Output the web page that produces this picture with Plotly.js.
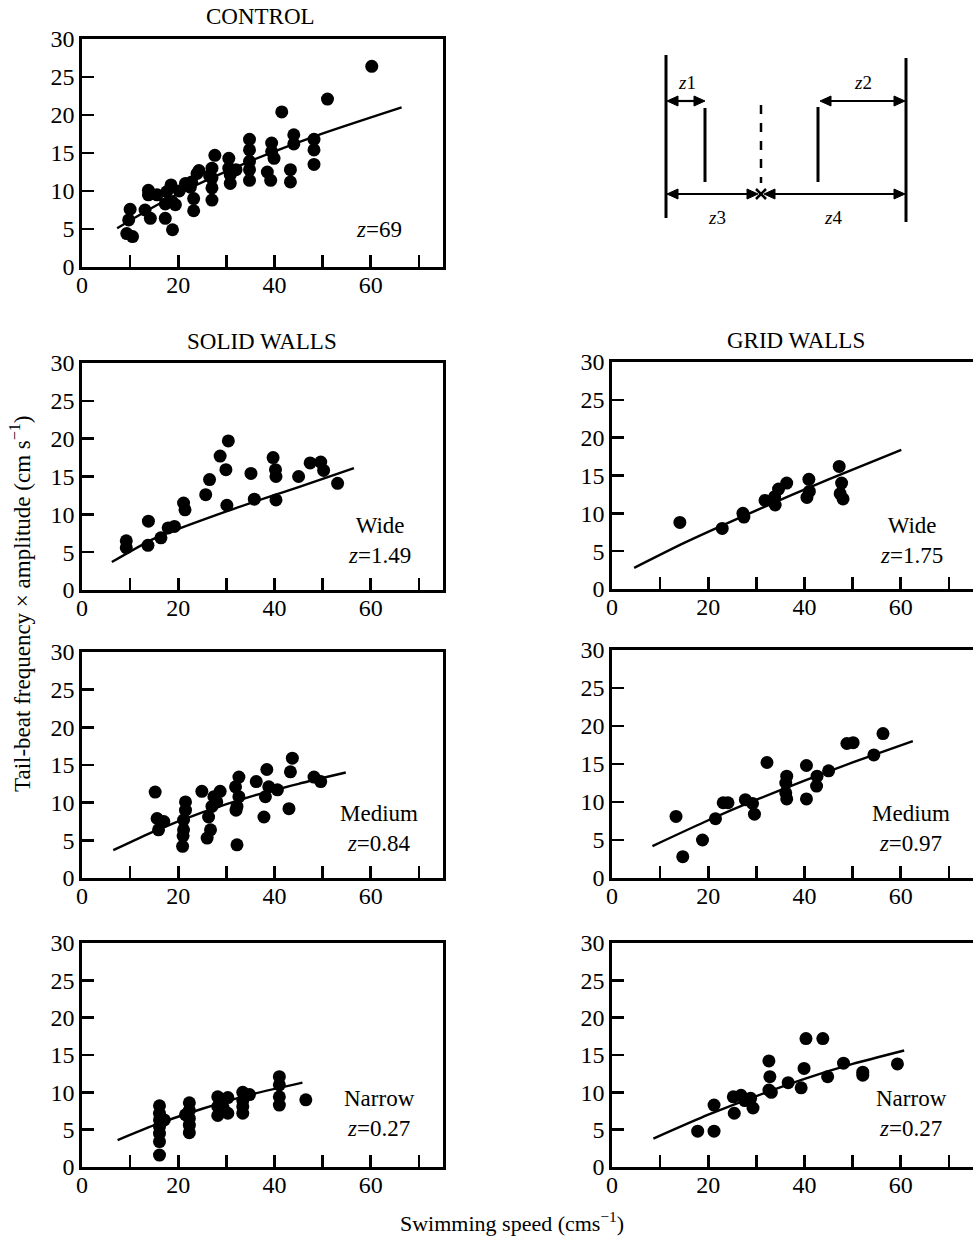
<!DOCTYPE html>
<html><head><meta charset="utf-8">
<script src="https://cdn.plot.ly/plotly-3.0.1.min.js"></script>
<style>html,body{margin:0;padding:0;background:#fff}#chart{width:973px;height:1240px}</style>
</head><body><div id="chart"></div>
<script>
// ---- data ----
const controlX = [9.3,10.5,9.7,10.0,13.1,14.2,13.8,13.8,15.6,17.3,17.3,17.6,18.5,18.7,18.8,19.4,20.2,21.5,22.5,22.8,23.2,23.2,23.9,24.3,27.0,27.0,27.0,27.0,27.6,26.5,30.5,30.5,30.8,30.8,32.0,34.8,34.8,34.8,34.8,34.8,38.5,39.2,39.4,39.4,39.9,41.5,43.3,43.3,44.0,44.0,48.2,48.2,48.2,51.0,60.2];
const controlY = [4.4,4.0,6.2,7.6,7.5,6.4,10.1,9.5,9.5,8.3,6.4,9.9,10.8,8.6,4.9,8.2,10.0,11.0,10.5,11.2,9.0,7.4,12.3,12.7,13.0,11.7,10.4,8.8,14.7,12.0,14.3,13.0,12.1,11.0,12.8,16.8,15.4,13.9,12.8,11.4,12.5,11.4,16.3,15.2,14.3,20.4,12.8,11.2,17.4,16.2,16.8,15.4,13.5,22.1,26.4];
const controlFitX = [7.3,14,21.8,35.6,48.8,66.4];
const controlFitY = [5.1,7.6,10.2,14.1,17.3,21.0];

const solidWideX = [9.2,9.2,13.8,13.7,16.4,17.9,19.2,21.1,21.4,25.7,26.5,28.7,30.4,29.9,30.1,35.1,35.8,39.7,40.2,40.3,40.3,45.0,47.4,49.6,50.2,53.1];
const solidWideY = [6.5,5.6,9.1,5.9,6.9,8.2,8.4,11.5,10.6,12.6,14.6,17.7,19.7,15.9,11.2,15.4,12.0,17.5,15.9,15.0,11.9,15.0,16.8,16.9,15.8,14.1];
const solidWideFitX = [6.2,15,30,45,56.5];
const solidWideFitY = [3.7,6.8,10.4,13.6,16.1];

const gridWideX = [14.1,22.9,27.2,27.4,31.8,33.9,33.8,34.6,36.3,40.5,41.0,40.9,47.2,47.7,47.4,48.0];
const gridWideY = [8.8,8.0,10.0,9.5,11.7,11.1,12.2,13.2,14.0,12.1,12.9,14.5,16.2,14.0,12.6,11.9];
const gridWideFitX = [4.6,15,30,45,60.1];
const gridWideFitY = [2.8,6.1,10.4,14.5,18.4];

const solidMedX = [15.2,15.6,15.9,17.0,21.5,21.5,21.1,21.1,21.0,20.9,24.9,27.4,27.0,26.3,26.7,26.0,28.7,28.0,32.6,31.9,32.6,32.2,32.0,32.2,36.2,38.4,38.8,38.1,37.8,40.6,43.7,43.3,43.0,48.2,49.6];
const solidMedY = [11.4,7.9,6.4,7.5,10.1,9.0,7.7,6.4,5.6,4.2,11.5,10.8,9.5,8.1,6.4,5.3,11.5,10.1,13.4,12.1,10.8,9.5,9.0,4.4,12.8,14.4,12.1,10.8,8.1,11.7,15.9,14.1,9.2,13.4,12.8];
const solidMedFitX = [6.5,15,25,35,45,54.8];
const solidMedFitY = [3.7,6.2,8.7,10.8,12.5,14.0];

const gridMedX = [13.3,14.7,18.8,21.5,23.1,24.1,27.7,29.2,29.6,32.2,36.3,36.1,36.1,36.3,40.4,40.4,42.6,42.5,45.0,48.8,50.1,54.4,56.3];
const gridMedY = [8.1,2.8,5.0,7.8,9.9,9.9,10.3,9.8,8.4,15.2,13.4,12.5,11.2,10.4,14.8,10.4,13.4,12.1,14.1,17.7,17.8,16.2,19.0];
const gridMedFitX = [8.4,20,30,40,50,62.5];
const gridMedFitY = [4.2,7.6,10.3,12.8,15.2,18.0];

const solidNarX = [16.1,16.1,16.1,16.1,16.1,16.1,16.1,17.1,22.3,22.3,22.3,22.3,22.3,21.5,28.2,28.2,28.2,30.3,30.3,29.3,33.4,33.4,33.4,33.4,34.8,41.0,41.0,41.0,41.0,46.5];
const solidNarY = [8.2,7.2,6.3,5.4,4.5,3.4,1.6,6.3,8.6,7.6,6.5,5.6,4.6,7.0,9.4,8.1,6.9,9.3,7.2,8.0,10.0,8.9,8.1,7.2,9.7,12.1,11.0,9.4,8.3,9.0];
const solidNarFitX = [7.4,15,25,35,45.8];
const solidNarFitY = [3.6,5.6,7.8,9.7,11.3];

const gridNarX = [17.8,21.2,21.2,25.4,25.2,26.8,27.6,28.8,29.3,32.6,32.8,32.6,33.1,36.6,39.3,39.9,40.3,43.8,44.8,48.1,52.1,52.1,59.3];
const gridNarY = [4.8,4.8,8.3,7.2,9.4,9.6,8.9,9.2,7.9,14.2,12.1,10.3,10.0,11.3,10.6,13.2,17.2,17.2,12.1,13.9,12.7,12.3,13.8];
const gridNarFitX = [8.6,20,30,40,50,60.7];
const gridNarFitY = [3.8,7.0,9.5,11.8,13.8,15.6];

const xTickVals = [0,20,40,60];
const xMinorStep = 10;
const yTickVals = [0,5,10,15,20,25,30];

const panelTitles = ['CONTROL','SOLID WALLS','GRID WALLS'];
const panelLabels = ['<i>z</i>=69','Wide<br><i>z</i>=1.49','Wide<br><i>z</i>=1.75','Medium<br><i>z</i>=0.84','Medium<br><i>z</i>=0.97','Narrow<br><i>z</i>=0.27','Narrow<br><i>z</i>=0.27'];
const yTitle = 'Tail-beat frequency × amplitude (cm s<sup>−1</sup>)';
const xTitle = 'Swimming speed (cms<sup>−1</sup>)';

// ---- layout helpers ----
const W = 973, H = 1240;
const FONT = "'Liberation Serif', 'Times New Roman', serif";
const px = v => v / W;
const py = v => 1 - v / H;

const panels = [
  {x: controlX, y: controlY, fx: controlFitX, fy: controlFitY, dx: [82,443], dy: [39,267], lab: [379,229]},
  {x: solidWideX, y: solidWideY, fx: solidWideFitX, fy: solidWideFitY, dx: [82,443], dy: [363,590], lab: [379,540]},
  {x: gridWideX, y: gridWideY, fx: gridWideFitX, fy: gridWideFitY, dx: [612,973], dy: [362,589], lab: [911,540]},
  {x: solidMedX, y: solidMedY, fx: solidMedFitX, fy: solidMedFitY, dx: [82,443], dy: [652,878], lab: [379,828]},
  {x: gridMedX, y: gridMedY, fx: gridMedFitX, fy: gridMedFitY, dx: [612,973], dy: [650,878], lab: [911,828]},
  {x: solidNarX, y: solidNarY, fx: solidNarFitX, fy: solidNarFitY, dx: [82,443], dy: [943,1167], lab: [379,1113]},
  {x: gridNarX, y: gridNarY, fx: gridNarFitX, fy: gridNarFitY, dx: [612,973], dy: [943,1167], lab: [911,1113]}
];

const traces = [];
const layout = {
  width: W, height: H,
  margin: {l:0, r:0, t:0, b:0},
  paper_bgcolor: '#fff', plot_bgcolor: '#fff',
  showlegend: false,
  font: {family: FONT, color: '#000', size: 22},
  annotations: [], shapes: []
};

panels.forEach((p, i) => {
  const n = i === 0 ? '' : String(i + 1);
  const xa = 'x' + n, ya = 'y' + n;
  traces.push({type: 'scatter', mode: 'markers', x: p.x, y: p.y, xaxis: xa, yaxis: ya,
    marker: {color: '#000', size: 13, line: {width: 0}}, hoverinfo: 'skip'});
  traces.push({type: 'scatter', mode: 'lines', x: p.fx, y: p.fy, xaxis: xa, yaxis: ya,
    line: {color: '#000', width: 2.4, shape: 'spline', smoothing: 0.6}, hoverinfo: 'skip'});
  const axCommon = {showgrid: false, zeroline: false, showline: true, linecolor: '#000', linewidth: 2.6,
    mirror: true, ticks: 'inside', tickcolor: '#000', tickwidth: 2.6, ticklen: 12,
    tickfont: {family: FONT, size: 24, color: '#000'}, fixedrange: true};
  layout['xaxis' + n] = Object.assign({}, axCommon, {
    domain: [px(p.dx[0]), px(p.dx[1])], range: [0, 75], anchor: ya,
    tickmode: 'array', tickvals: xTickVals, ticktext: xTickVals.map(String), ticklabelstandoff: -5,
    minor: {dtick: xMinorStep, tick0: 0, ticks: 'inside', ticklen: 12, tickwidth: 2.6, tickcolor: '#000', showgrid: false}});
  layout['yaxis' + n] = Object.assign({}, axCommon, {
    domain: [py(p.dy[1]), py(p.dy[0])], range: [0, 30], anchor: xa,
    tickmode: 'array', tickvals: yTickVals, ticktext: yTickVals.map(String)});
  layout.annotations.push({xref: 'paper', yref: 'paper', x: px(p.lab[0]), y: py(p.lab[1]),
    text: panelLabels[i], showarrow: false, xanchor: 'center', yanchor: 'middle', align: 'center',
    font: {family: FONT, size: 23, color: '#000'}});
});

// panel titles
[[260, 17], [262, 341], [796, 340]].forEach((c, i) => {
  layout.annotations.push({xref: 'paper', yref: 'paper', x: px(c[0]), y: py(c[1]), text: panelTitles[i],
    showarrow: false, xanchor: 'center', yanchor: 'middle', font: {family: FONT, size: 23, color: '#000'}});
});
// axis titles
layout.annotations.push({xref: 'paper', yref: 'paper', x: px(20), y: py(604), text: yTitle, textangle: -90,
  showarrow: false, xanchor: 'center', yanchor: 'middle', font: {family: FONT, size: 23, color: '#000'}});
layout.annotations.push({xref: 'paper', yref: 'paper', x: px(512), y: py(1222), text: xTitle,
  showarrow: false, xanchor: 'center', yanchor: 'middle', font: {family: FONT, size: 22, color: '#000'}});

// ---- schematic (top right), drawn with shapes in paper coordinates ----
const seg = (x0, y0, x1, y1, w, dash) => layout.shapes.push({type: 'line', xref: 'paper', yref: 'paper',
  x0: px(x0), y0: py(y0), x1: px(x1), y1: py(y1), line: {color: '#000', width: w, dash: dash || 'solid'}});
const head = (xt, y, dir) => {  // dir = +1 points right, -1 points left
  const xb = xt - dir * 11;
  layout.shapes.push({type: 'path', xref: 'paper', yref: 'paper',
    path: `M ${px(xt)} ${py(y)} L ${px(xb)} ${py(y - 5)} L ${px(xb)} ${py(y + 5)} Z`,
    fillcolor: '#000', line: {color: '#000', width: 1}});
};
const dblArrow = (x0, x1, y) => { seg(x0 + 4, y, x1 - 4, y, 2.2); head(x0, y, -1); head(x1, y, 1); };
seg(666, 55, 666, 218, 3);
seg(906, 58, 906, 222, 3);
seg(705, 108, 705, 182, 3);
seg(818, 107, 818, 182, 3);
seg(761, 105, 761, 183, 2.5, 'dash');
seg(756, 189, 766, 199, 2.5);
seg(756, 199, 766, 189, 2.5);
dblArrow(667, 705, 101);
dblArrow(820, 905, 101);
dblArrow(667, 758, 194);
dblArrow(764, 905, 194);
[['<i>z</i>1', 687, 83], ['<i>z</i>2', 863, 83], ['<i>z</i>3', 717, 218], ['<i>z</i>4', 833, 218]].forEach(t => {
  layout.annotations.push({xref: 'paper', yref: 'paper', x: px(t[1]), y: py(t[2]), text: t[0], showarrow: false,
    xanchor: 'center', yanchor: 'middle', font: {family: FONT, size: 19, color: '#000'}});
});

Plotly.newPlot('chart', traces, layout, {staticPlot: true, displayModeBar: false});
</script>
</body></html>
